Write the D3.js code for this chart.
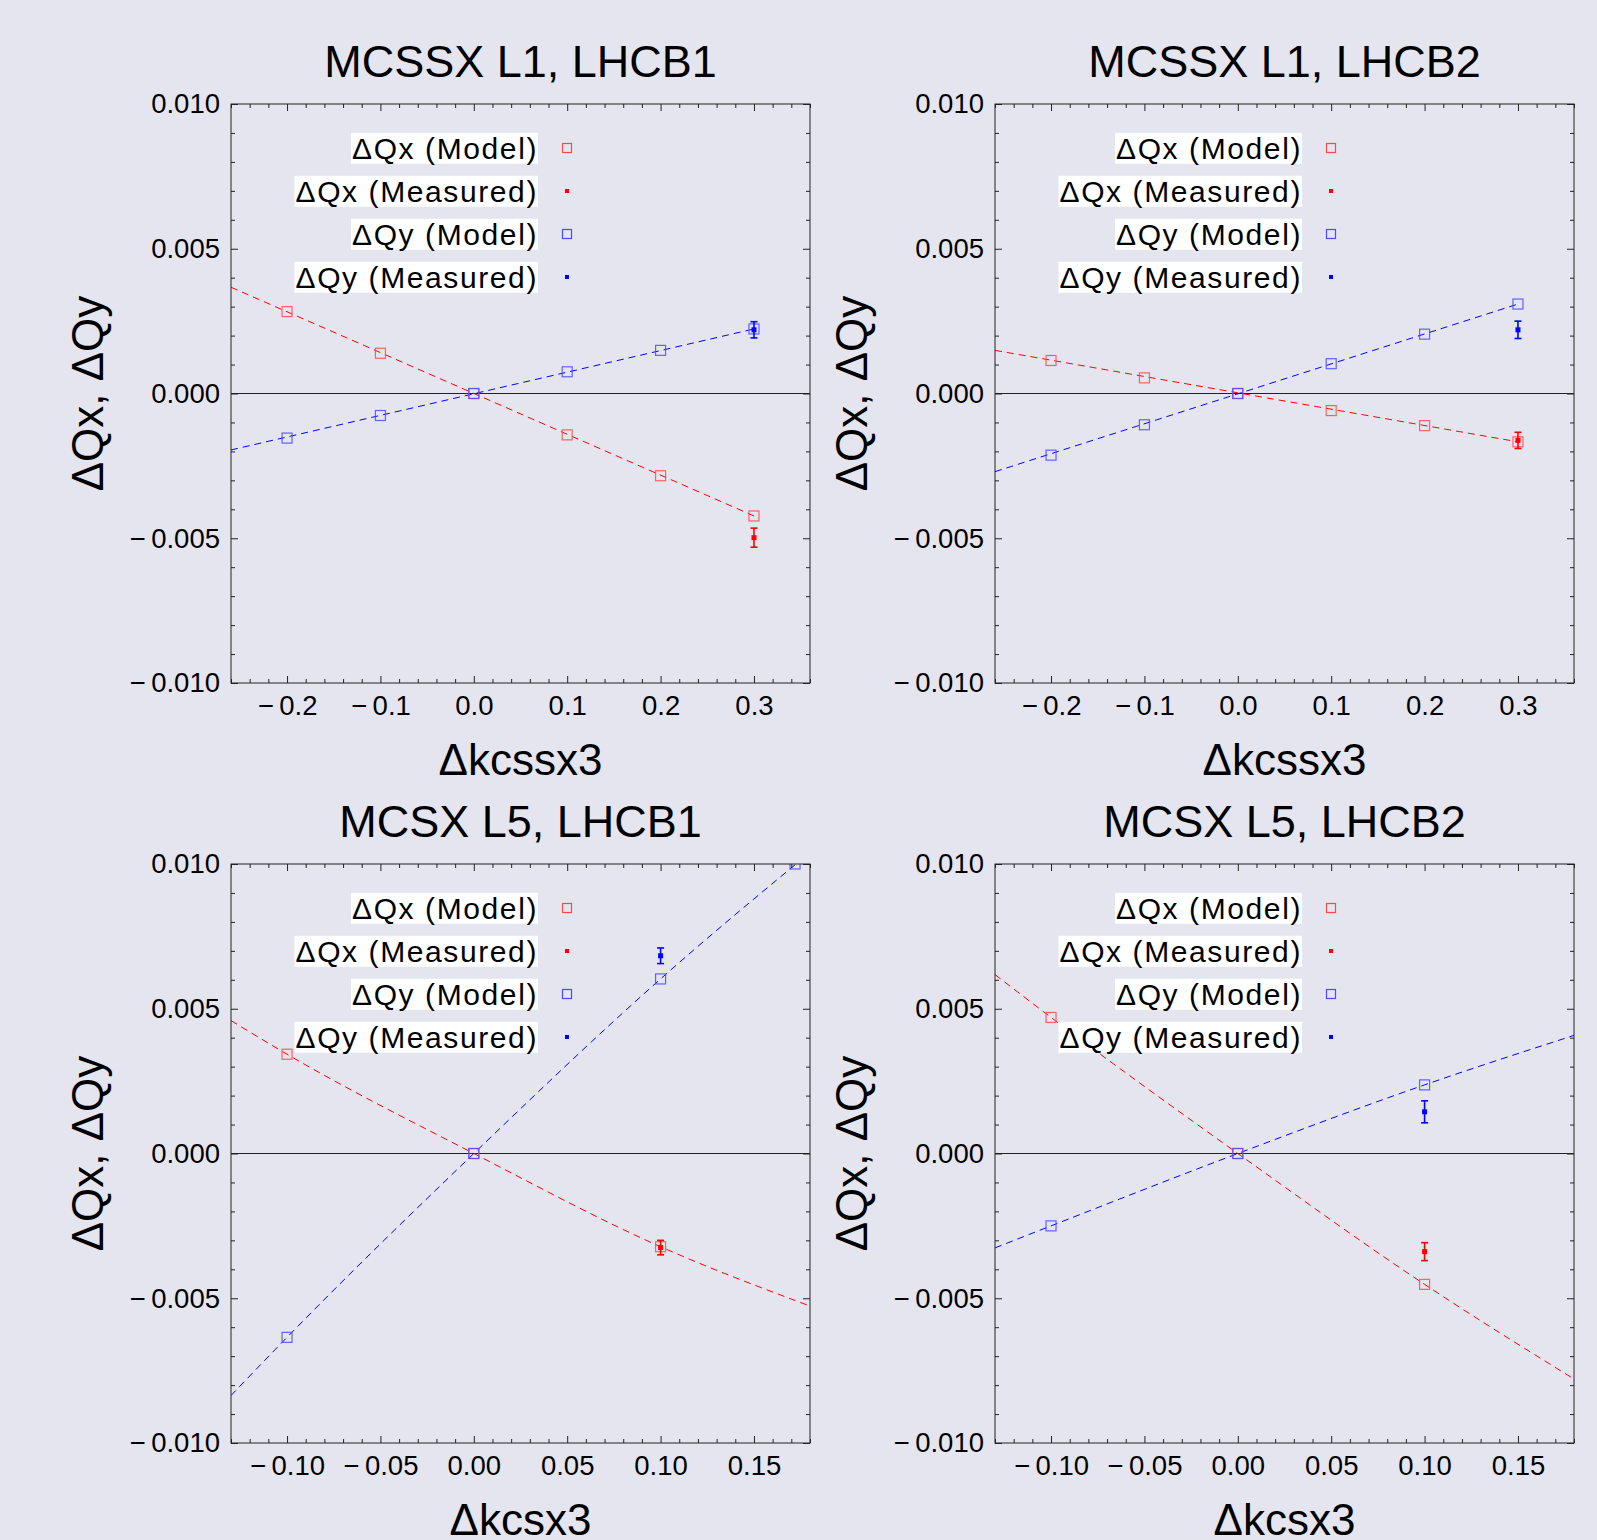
<!DOCTYPE html>
<html>
  <head>
    <meta charset="utf-8">
    <title>Tune shifts vs corrector strength</title>
    <script src="https://d3js.org/d3.v7.min.js"></script>
    <style>
      body { margin: 0; background: #e5e5ef; }
      svg { display: block; font-family: "Liberation Sans", Arial, sans-serif; }
    </style>
  </head>
  <body>
    <script>
      // panel texts
      panelTitles = ["MCSSX L1, LHCB1", "MCSSX L1, LHCB2", "MCSX L5, LHCB1", "MCSX L5, LHCB2"];
      xTitles = ["\u0394kcssx3", "\u0394kcssx3", "\u0394kcsx3", "\u0394kcsx3"];
      yTitle = "\u0394Qx, \u0394Qy";
      legendLabels = ["\u0394Qx (Model)", "\u0394Qx (Measured)", "\u0394Qy (Model)", "\u0394Qy (Measured)"];
      // axes
      xDomains = [[-0.26, 0.36], [-0.26, 0.36], [-0.13, 0.18], [-0.13, 0.18]];
      yDomain = [-0.01, 0.01];
      xTicksL1 = [-0.2, -0.1, 0, 0.1, 0.2, 0.3];
      xTickLabelsL1 = ["\u22120.2", "\u22120.1", "0.0", "0.1", "0.2", "0.3"];
      xTicksL5 = [-0.1, -0.05, 0, 0.05, 0.1, 0.15];
      xTickLabelsL5 = ["\u22120.10", "\u22120.05", "0.00", "0.05", "0.10", "0.15"];
      xMinorStep = [0.02, 0.02, 0.01, 0.01];
      yTicks = [-0.01, -0.005, 0, 0.005, 0.01];
      yTickLabels = ["\u22120.010", "\u22120.005", "0.000", "0.005", "0.010"];
      yMinorStep = 0.001;
      // model points
      modelQxX = [xTicksL1, xTicksL1, [-0.1, 0, 0.1], [-0.1, 0, 0.1]];
      modelQxY = [
        [0.00283, 0.00139, 0, -0.00143, -0.00284, -0.00423],
        [0.00114, 0.00054, 0, -0.00059, -0.00111, -0.00167],
        [0.00343, 0, -0.00322],
        [0.0047, 0, -0.00452]
      ];
      modelQyX = [xTicksL1, xTicksL1, [-0.1, 0, 0.1, 0.172], [-0.1, 0, 0.1]];
      modelQyY = [
        [-0.00154, -0.00076, 0, 0.00075, 0.00149, 0.00223],
        [-0.00213, -0.00108, 0, 0.00103, 0.00205, 0.00309],
        [-0.00635, 0, 0.00603, 0.01],
        [-0.0025, 0, 0.00237]
      ];
      // fitted (dashed) curves
      fitX = [[-0.26, 0.3], [-0.26, 0.3], [-0.13, -0.1, 0, 0.1, 0.18], [-0.13, -0.1, 0, 0.1, 0.18]];
      fitQx = [
        [0.00367, -0.00423],
        [0.00149, -0.00167],
        [0.00459, 0.00343, 0, -0.00322, -0.00527],
        [0.00618, 0.0047, 0, -0.00452, -0.00779]
      ];
      fitQy = [
        [-0.00195, 0.00223],
        [-0.0027, 0.00309],
        [-0.00836, -0.00635, 0, 0.00603, 0.0104],
        [-0.00326, -0.0025, 0, 0.00237, 0.00408]
      ];
      // measured points
      measX = [0.3, 0.3, 0.1, 0.1];
      measQx = [-0.00498, -0.00162, -0.00325, -0.00339];
      measQxErr = [0.00033, 0.00028, 0.00025, 0.00031];
      measQy = [0.0022, 0.0022, 0.00683, 0.00144];
      measQyErr = [0.00028, 0.0003, 0.00027, 0.00038];

      // layout
      width = 1597;
      height = 1540;
      size = 579;
      origins = [[231, 104], [995, 104], [231, 864], [995, 864]];
      red = "#ff0000";
      blue = "#0000ff";
      redModel = "#ff4a4a";
      blueModel = "#4a4aff";
      frameColor = "#222";

      svg = d3.select("body").append("svg")
        .attr("width", width)
        .attr("height", height);
      svg.append("rect")
        .attr("width", width)
        .attr("height", height)
        .attr("fill", "#e5e5ef");

      panelTitles.forEach(function(t, i) { drawPanel(i); });

      function minusGap(s) {
        return s.replace("\u2212", "\u2212\u2009");
      }

      function drawPanel(i) {
        left = origins[i][0];
        top0 = origins[i][1];
        x = d3.scaleLinear().domain(xDomains[i]).range([left, left + size]);
        y = d3.scaleLinear().domain(yDomain).range([top0 + size, top0]);
        xTicks = i < 2 ? xTicksL1 : xTicksL5;
        xLabels = i < 2 ? xTickLabelsL1 : xTickLabelsL5;
        xMinor = d3.range(Math.ceil(xDomains[i][0] / xMinorStep[i] - 1e-9), Math.floor(xDomains[i][1] / xMinorStep[i] + 1e-9) + 1)
          .map(function(k) { return +(k * xMinorStep[i]).toFixed(4); })
          .filter(function(v) { return !xTicks.some(function(t) { return Math.abs(t - v) < 1e-9; }); });
        yMinor = d3.range(-10, 11)
          .map(function(k) { return +(k * yMinorStep).toFixed(4); })
          .filter(function(v) { return !yTicks.some(function(t) { return Math.abs(t - v) < 1e-9; }); });

        g = svg.append("g");
        clipId = "clip" + i;
        g.append("clipPath").attr("id", clipId)
          .append("rect")
            .attr("x", left)
            .attr("y", top0)
            .attr("width", size)
            .attr("height", size);

        // zero line
        g.append("line")
          .attr("x1", left).attr("x2", left + size)
          .attr("y1", y(0)).attr("y2", y(0))
          .attr("stroke", "#222")
          .attr("stroke-width", 1);

        plot = g.append("g").attr("clip-path", "url(#" + clipId + ")");

        // dashed fits
        line = d3.line()
          .x(function(d) { return x(d[0]); })
          .y(function(d) { return y(d[1]); })
          .curve(d3.curveMonotoneX);
        [[fitQx[i], red], [fitQy[i], blue]].forEach(function(s) {
          plot.append("path")
            .attr("d", line(fitX[i].map(function(v, k) { return [v, s[0][k]]; })))
            .attr("fill", "none")
            .attr("stroke", s[1])
            .attr("stroke-width", 1)
            .attr("stroke-dasharray", "7,5");
        });

        // model squares
        [[modelQxX[i], modelQxY[i], redModel], [modelQyX[i], modelQyY[i], blueModel]].forEach(function(s) {
          plot.selectAll(null)
            .data(s[0].map(function(v, k) { return [v, s[1][k]]; }))
            .enter().append("rect")
              .attr("x", function(d) { return x(d[0]) - 5; })
              .attr("y", function(d) { return y(d[1]) - 5; })
              .attr("width", 10)
              .attr("height", 10)
              .attr("fill", "none")
              .attr("stroke", s[2])
              .attr("stroke-opacity", 0.85)
              .attr("stroke-width", 1.2);
        });

        // measured points with error bars
        [[measQx[i], measQxErr[i], red], [measQy[i], measQyErr[i], blue]].forEach(function(s) {
          px = x(measX[i]);
          bar = plot.append("g").attr("stroke", s[2]).attr("stroke-width", 1.6);
          bar.append("line")
            .attr("x1", px).attr("x2", px)
            .attr("y1", y(s[0] - s[1])).attr("y2", y(s[0] + s[1]));
          [s[0] - s[1], s[0] + s[1]].forEach(function(v) {
            bar.append("line")
              .attr("x1", px - 3.5).attr("x2", px + 3.5)
              .attr("y1", y(v)).attr("y2", y(v));
          });
          plot.append("rect")
            .attr("x", px - 2.5)
            .attr("y", y(s[0]) - 2.5)
            .attr("width", 5)
            .attr("height", 5)
            .attr("fill", s[2]);
        });

        // frame ticks (inward, major and minor)
        function styleAxis(sel) {
          sel.select(".domain").remove();
          sel.selectAll("line").attr("stroke", frameColor);
          sel.selectAll("text")
            .attr("fill", "#000")
            .style("font-size", "27.5px")
            .style("font-family", "'Liberation Sans', Arial, sans-serif");
        }
        axes = [
          [d3.axisBottom(x), "translate(0," + (top0 + size) + ")", xTicks, xMinor, function(d, k) { return minusGap(xLabels[k]); }],
          [d3.axisTop(x), "translate(0," + top0 + ")", xTicks, xMinor, null],
          [d3.axisLeft(y), "translate(" + left + ",0)", yTicks, yMinor, function(d, k) { return minusGap(yTickLabels[k]); }],
          [d3.axisRight(y), "translate(" + (left + size) + ",0)", yTicks, yMinor, null]
        ];
        axes.forEach(function(a, k) {
          major = a[0].tickValues(a[2]).tickSizeInner(-7).tickSizeOuter(0)
            .tickPadding(k == 0 ? 12 : 11)
            .tickFormat(a[4] ? a[4] : function() { return ""; });
          g.append("g").attr("transform", a[1]).call(major).call(styleAxis);
          minor = a[0].tickValues(a[3]).tickSizeInner(-4).tickFormat(function() { return ""; });
          g.append("g").attr("transform", a[1]).call(minor).call(styleAxis);
        });

        // frame
        g.append("rect")
          .attr("x", left)
          .attr("y", top0)
          .attr("width", size)
          .attr("height", size)
          .attr("fill", "none")
          .attr("stroke", frameColor)
          .attr("stroke-width", 1);

        // titles
        g.append("text")
          .attr("x", left + size / 2)
          .attr("y", top0 - 27)
          .attr("text-anchor", "middle")
          .style("font-size", "45px")
          .text(panelTitles[i]);
        g.append("text")
          .attr("x", left + size / 2)
          .attr("y", top0 + size + 92)
          .attr("text-anchor", "middle")
          .style("font-size", "44px")
          .text(xTitles[i]);
        g.append("text")
          .attr("transform", "translate(" + (left - 128) + "," + (top0 + size / 2) + ") rotate(-90)")
          .attr("text-anchor", "middle")
          .style("font-size", "44px")
          .text(yTitle);

        // legend
        legendColors = [redModel, red, blueModel, blue];
        legendLabels.forEach(function(label, k) {
          rowY = top0 + 44 + 43 * k;
          row = g.append("g");
          box = row.append("rect").attr("fill", "#fff");
          txt = row.append("text")
            .attr("x", left + 307)
            .attr("y", rowY)
            .attr("dy", "0.36em")
            .attr("text-anchor", "end")
            .style("font-size", "30px")
            .style("letter-spacing", "1.6px")
            .text(label);
          bb = txt.node().getBBox();
          box.attr("x", bb.x - 1)
            .attr("y", bb.y + 1)
            .attr("width", bb.width + 1)
            .attr("height", bb.height - 2);
          if (k % 2 == 0) {
            row.append("rect")
              .attr("x", left + 336 - 4.5)
              .attr("y", rowY - 4.5)
              .attr("width", 9)
              .attr("height", 9)
              .attr("fill", "none")
              .attr("stroke", legendColors[k])
              .attr("stroke-width", 1.2);
          } else {
            row.append("rect")
              .attr("x", left + 336 - 2)
              .attr("y", rowY - 2)
              .attr("width", 4)
              .attr("height", 4)
              .attr("fill", legendColors[k]);
          }
        });
      }
    </script>
  </body>
</html>
